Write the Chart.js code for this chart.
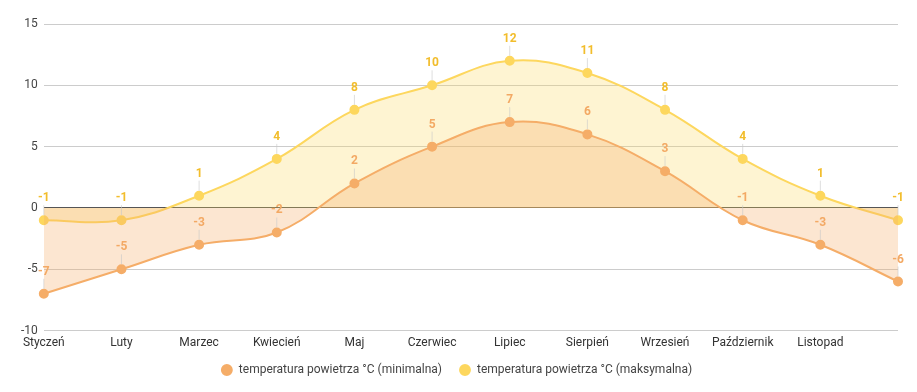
<!DOCTYPE html>
<html>
<head>
<meta charset="utf-8">
<script src="https://cdn.jsdelivr.net/npm/chart.js@4/dist/chart.umd.min.js"></script>
<style>
  html, body { margin: 0; padding: 0; background: #fff; }
  #wrap { width: 917px; height: 392px; }
</style>
</head>
<body>
<div id="wrap"><canvas id="chart"></canvas></div>
<script>
const months = ['Styczeń', 'Luty', 'Marzec', 'Kwiecień', 'Maj', 'Czerwiec', 'Lipiec', 'Sierpień', 'Wrzesień', 'Październik', 'Listopad', 'Grudzień'];
const tempMin = [-7, -5, -3, -2, 2, 5, 7, 6, 3, -1, -3, -6];
const tempMax = [-1, -1, 1, 4, 8, 10, 12, 11, 8, 4, 1, -1];
const seriesNames = ['temperatura powietrza °C (minimalna)', 'temperatura powietrza °C (maksymalna)'];

const orange = '#f5ad68';
const yellow = '#fdd75e';

// value labels above each point with a small leader line
const pointLabels = {
	id: 'pointLabels',
	afterDatasetsDraw(chart) {
		const ctx = chart.ctx;
		ctx.save();
		ctx.font = 'bold 12px Roboto';
		ctx.textAlign = 'center';
		ctx.textBaseline = 'middle';
		chart.data.datasets.forEach((ds, i) => {
			const meta = chart.getDatasetMeta(i);
			meta.data.forEach((pt, j) => {
				ctx.strokeStyle = 'rgba(200,200,200,0.6)';
				ctx.lineWidth = 1;
				ctx.beginPath();
				ctx.moveTo(pt.x, pt.y - 5);
				ctx.lineTo(pt.x, pt.y - 15);
				ctx.stroke();
				ctx.fillStyle = ds.labelColor;
				ctx.fillText(ds.data[j], pt.x, pt.y - 22);
			});
		});
		ctx.restore();
	}
};

// pull the legend a bit closer to the axis labels
const legendShift = {
	id: 'legendShift',
	afterLayout(chart) {
		chart.legend.top -= 8;
		chart.legend.bottom -= 8;
	}
};

new Chart(document.getElementById('chart'), {
	type: 'line',
	data: {
		labels: months,
		datasets: [
			{
				label: seriesNames[0],
				data: tempMin,
				borderColor: orange,
				backgroundColor: 'rgba(245,173,104,0.3)',
				pointBackgroundColor: orange,
				pointBorderColor: orange,
				labelColor: '#f3a964',
				fill: 'origin',
				tension: 0.4,
				borderWidth: 2,
				pointRadius: 4,
			},
			{
				label: seriesNames[1],
				data: tempMax,
				borderColor: yellow,
				backgroundColor: 'rgba(253,215,94,0.28)',
				pointBackgroundColor: yellow,
				pointBorderColor: yellow,
				labelColor: '#f2bd2c',
				fill: 'origin',
				tension: 0.4,
				borderWidth: 2,
				pointRadius: 4,
			},
		],
	},
	options: {
		responsive: true,
		maintainAspectRatio: false,
		animation: false,
		layout: { padding: { top: 24, right: 19, left: 15, bottom: -2 } },
		scales: {
			x: {
				grid: { display: false, drawTicks: false },
				border: { display: false },
				ticks: {
					color: '#333',
					font: { family: 'Roboto', size: 12 },
					maxRotation: 0,
					autoSkip: false,
					padding: 5,
					callback: (v, i) => (i === months.length - 1 ? '' : months[i]),
				},
			},
			y: {
				min: -10,
				max: 15,
				border: { display: false },
				grid: {
					drawTicks: false,
					color: (c) => (c.tick && c.tick.value === 0 ? '#555' : '#ccc'),
				},
				ticks: {
					stepSize: 5,
					color: '#444',
					padding: 6,
					font: { family: 'Roboto', size: 12 },
				},
			},
		},
		plugins: {
			legend: {
				position: 'bottom',
				labels: {
					usePointStyle: true,
					pointStyle: 'circle',
					boxWidth: 12,
					boxHeight: 7,
					padding: 17,
					color: '#444',
					font: { family: 'Roboto', size: 12 },
				},
			},
			tooltip: { enabled: false },
		},
	},
	plugins: [pointLabels, legendShift],
});
</script>
</body>
</html>
